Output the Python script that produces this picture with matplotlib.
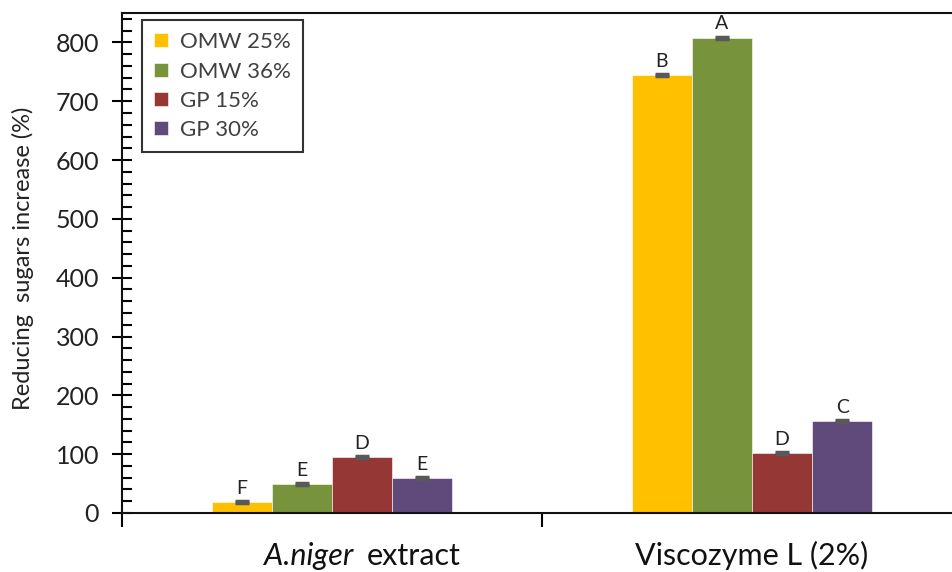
import numpy as np
import matplotlib.pyplot as plt
from matplotlib.transforms import blended_transform_factory
from matplotlib.ticker import MultipleLocator, FixedLocator

plt.rcParams['font.family'] = ['Lato', 'DejaVu Sans']

# Datos
categorias = ['A.niger extract', 'Viscozyme L (2%)']
series = ['OMW 25%', 'OMW 36%', 'GP 15%', 'GP 30%']
colores = ['#FFC000', '#77933C', '#953735', '#604A7B']
valores = [[19, 744],
           [49, 808],
           [95, 102],
           [60, 157]]
errores = [[1.5, 1.5],
           [2, 2],
           [2, 2],
           [1.5, 1.5]]
letras = [['F', 'B'],
          ['E', 'A'],
          ['D', 'D'],
          ['E', 'C']]

fig = plt.figure(figsize=(9.53, 5.72), dpi=100)
ax = fig.add_axes([122 / 953, 59 / 572, 840 / 953, 500 / 572])

x = np.arange(len(categorias))
ancho = 0.143
for i, serie in enumerate(series):
    pos = x + (i - 1.5) * ancho
    ax.bar(pos, valores[i], ancho, color=colores[i], label=serie,
           edgecolor='white', linewidth=0.4)
    ax.errorbar(pos, valores[i], yerr=errores[i], fmt='none',
                ecolor='#595959', elinewidth=1, capsize=5, capthick=2.5)
    for p, v, e, t in zip(pos, valores[i], errores[i], letras[i]):
        ax.annotate(t, (p, v + e), xytext=(0, 3), textcoords='offset points',
                    ha='center', va='bottom', fontsize=14, color='#222222')

ax.set_xlim(-0.5, 1.5)
ax.set_ylim(0, 850)

# Eje x: marcas entre categorías y nombres debajo
ax.xaxis.set_major_locator(FixedLocator([-0.5, 0.5, 1.5]))
ax.xaxis.set_major_formatter(plt.NullFormatter())
ax.tick_params(axis='x', which='major', direction='out', length=10, width=1.5)

trans = blended_transform_factory(ax.transData, ax.transAxes)
y_etq = -0.104
especie, resto = categorias[0].split(' ', 1)
ax.text(x[0] + 0.05, y_etq, especie, transform=trans, ha='right',
        va='baseline', fontsize=22, style='italic', color='#111111')
ax.text(x[0] + 0.083, y_etq, resto, transform=trans, ha='left',
        va='baseline', fontsize=22, color='#111111')
ax.text(x[1], y_etq, categorias[1], transform=trans, ha='center',
        va='baseline', fontsize=22, color='#111111')

# Eje y
ax.yaxis.set_major_locator(MultipleLocator(100))
ax.yaxis.set_minor_locator(MultipleLocator(20))
ax.tick_params(axis='y', which='major', direction='inout', length=15, width=1.5,
               labelsize=18, pad=9, labelcolor='#222222')
ax.tick_params(axis='y', which='minor', direction='in', length=7, width=1.5)
ax.set_ylabel('Reducing  sugars increase (%)', fontsize=17, color='#222222')
ax.yaxis.set_label_coords(-0.105, 0.51)

for lado in ['left', 'bottom', 'top', 'right']:
    ax.spines[lado].set_linewidth(1.5)
    ax.spines[lado].set_color('#111111')

leg = ax.legend(loc='upper left', bbox_to_anchor=(142 / 953, 1 - 20 / 572),
                bbox_transform=fig.transFigure, fontsize=16, frameon=True,
                fancybox=False, edgecolor='black', handlelength=0.6,
                handleheight=0.6, handletextpad=0.55, labelspacing=0.42,
                borderpad=0.55, borderaxespad=0, labelcolor='#404040')
leg.get_frame().set_linewidth(1.5)

fig.savefig('out.png', dpi=100)
